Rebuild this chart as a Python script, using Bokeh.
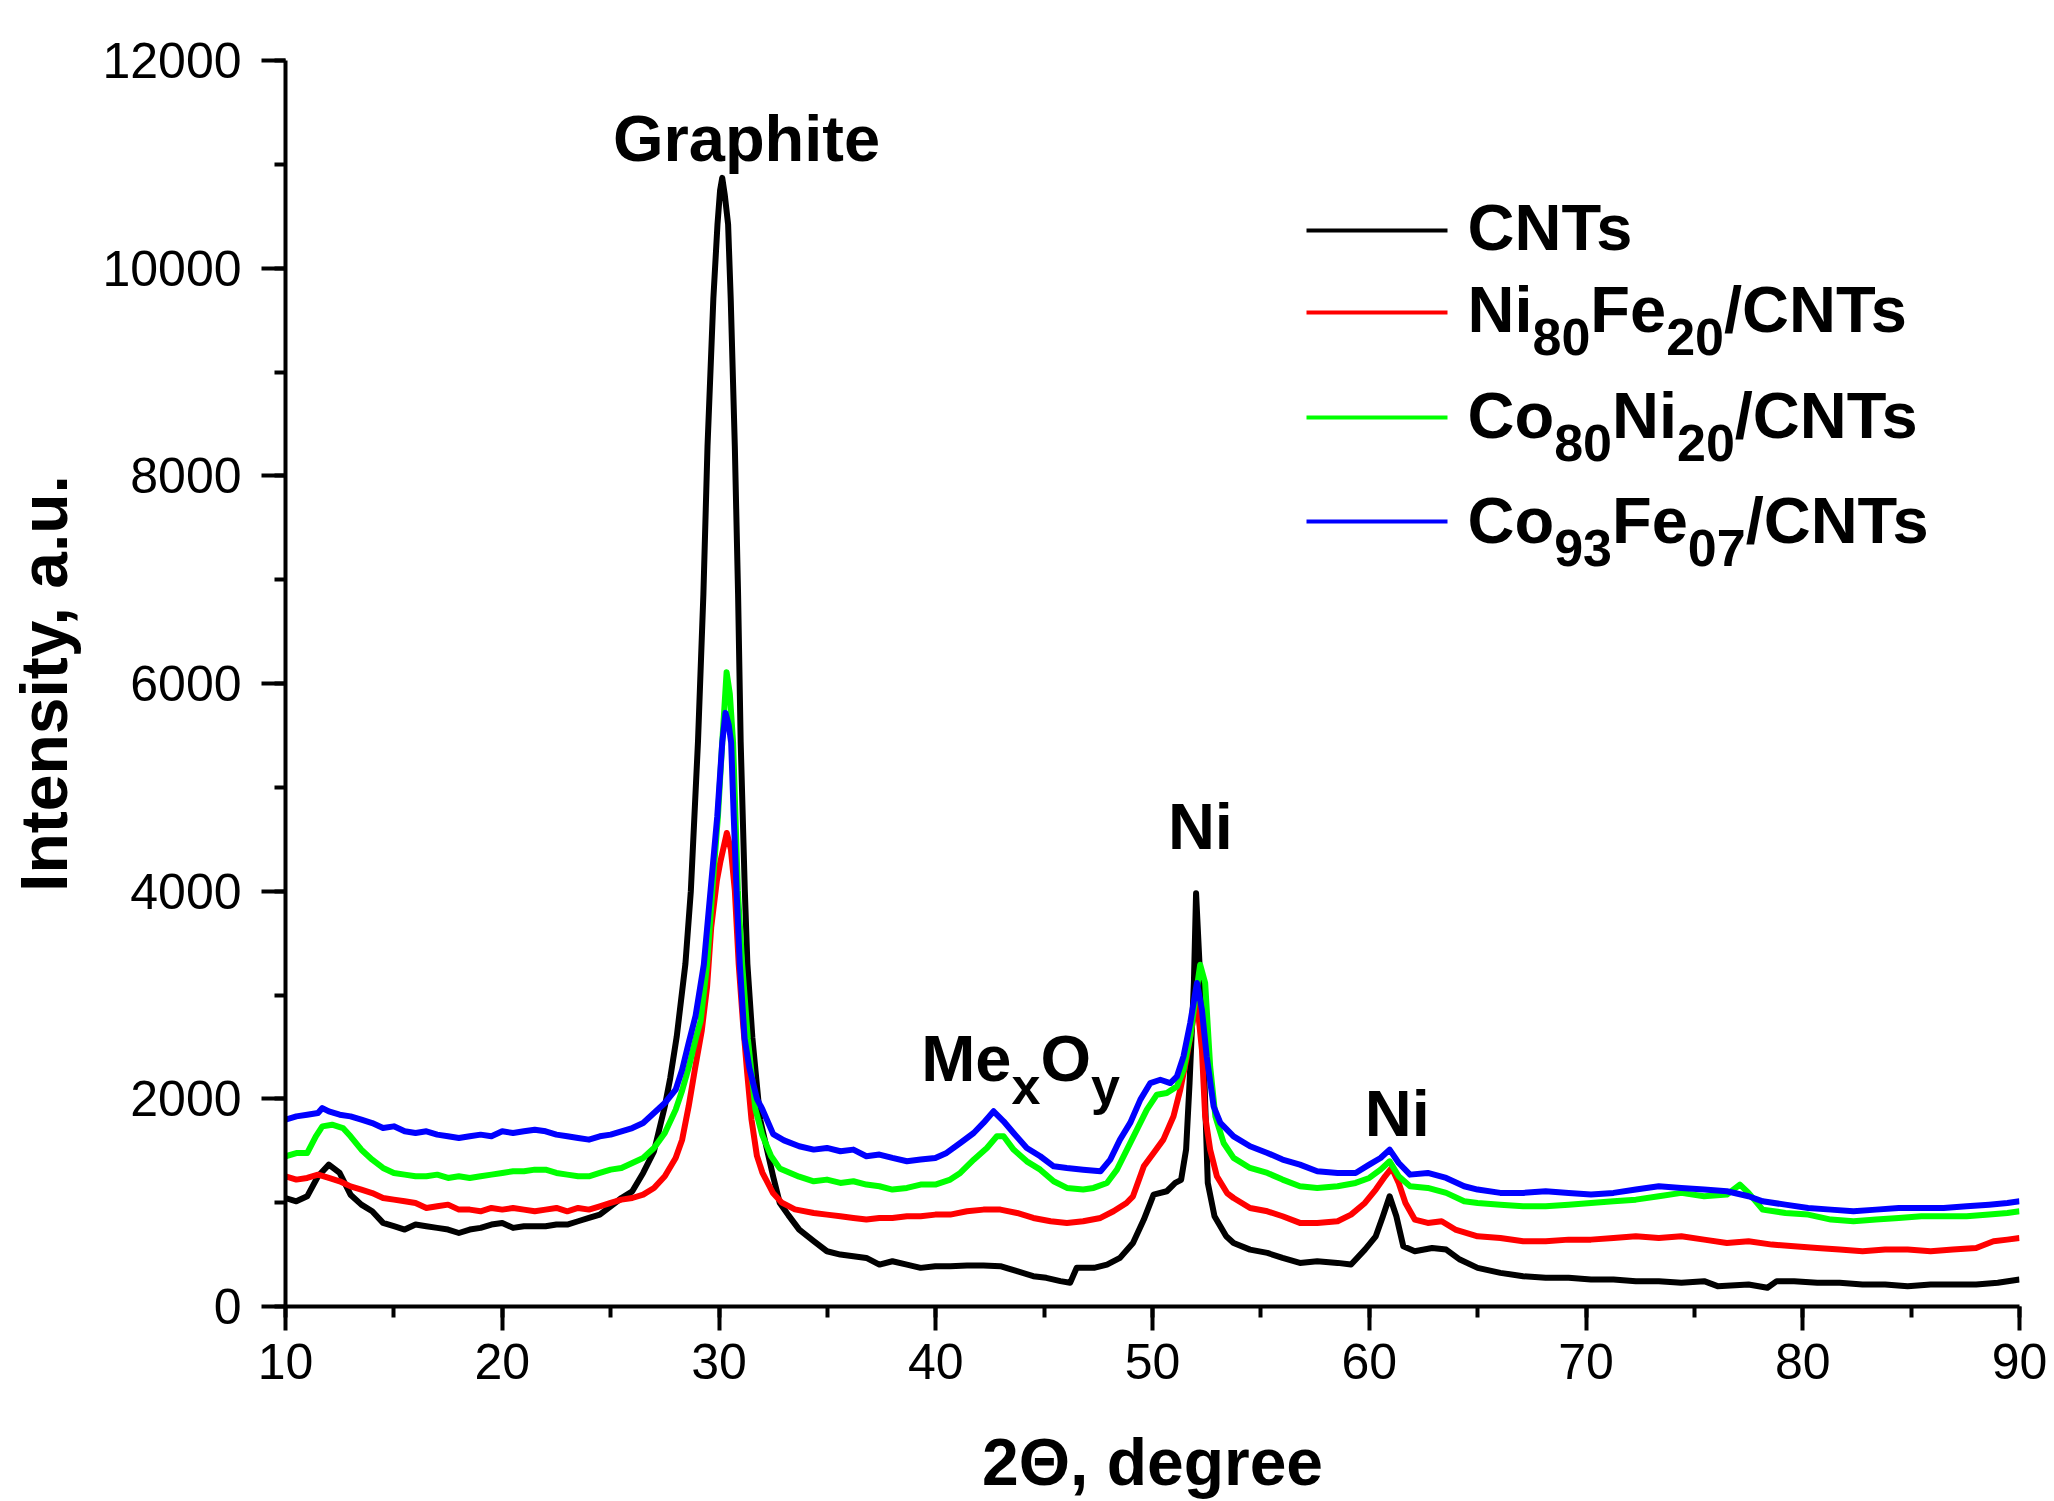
from bokeh.plotting import figure
from bokeh.models import Range1d, SingleIntervalTicker, Label, Arrow, ColumnDataSource
from bokeh.embed import file_html
from bokeh.resources import INLINE

# ---------------- data ----------------
cnt_x = [10.0, 10.5, 11.0, 11.5, 12.0, 12.5, 13.0, 13.5, 14.0, 14.5, 15.0, 15.5, 16.0, 16.5, 17.0, 17.5,
         18.0, 18.5, 19.0, 19.5, 20.0, 20.5, 21.0, 21.5, 22.0, 22.5, 23.0, 23.5, 24.0, 24.5, 25.0, 25.5,
         26.0, 26.5, 27.0, 27.5, 27.75, 28.05, 28.45, 28.7, 29.03, 29.28, 29.47, 29.74, 29.93, 30.05,
         30.15, 30.27, 30.42, 30.54, 30.73, 30.88, 31.0, 31.19, 31.31, 31.54, 31.9, 32.5, 32.8, 33.2,
         33.7, 34.37, 34.98, 35.6, 36.2, 36.8, 37.4, 38.0, 38.67, 39.3, 39.98, 40.67, 41.44, 42.2,
         42.98, 43.75, 44.5, 45.1, 45.75, 46.2, 46.5, 47.3, 47.9, 48.5, 49.1, 49.6, 50.05, 50.66,
         51.05, 51.32, 51.55, 51.71, 51.91, 52.01, 52.21, 52.4, 52.55, 52.86, 53.4, 53.74, 54.5,
         55.3, 56.0, 56.8, 57.6, 58.54, 59.16, 59.8, 60.3, 60.63, 60.94, 61.25, 61.57, 62.1, 62.9,
         63.55, 64.18, 65.0, 66.05, 67.1, 68.14, 69.2, 70.23, 71.27, 72.3, 73.36, 74.4, 75.45, 76.07,
         77.5, 78.37, 78.8, 79.6, 80.67, 81.7, 82.76, 83.8, 84.84, 85.9, 86.93, 88.0, 89.0, 90.0]
cnt_y = [1045, 1013, 1061, 1254, 1366, 1286, 1077, 981, 917, 805, 773, 741, 789, 773, 757, 741,
         708, 741, 757, 789, 805, 757, 773, 773, 773, 789, 789, 821, 853, 885, 965, 1045,
         1109, 1286, 1494, 1927, 2200, 2600, 3300, 4000, 5437, 6861, 8285, 9709, 10421, 10750,
         10870, 10700, 10421, 9709, 8285, 6861, 5437, 4013, 3300, 2589, 1800, 1250, 1000, 880,
         740, 629, 532, 500, 484, 468, 404, 436, 404, 372, 388, 388, 394, 394,
         388, 340, 292, 276, 244, 228, 372, 372, 404, 468, 612, 837, 1078, 1110,
         1190, 1220, 1511, 2155, 3118, 3980, 3118, 2155, 1190, 869, 677, 612, 548,
         516, 468, 420, 436, 420, 404, 548, 676, 869, 1062, 869, 580, 532, 564,
         548, 452, 372, 324, 292, 276, 276, 260, 260, 244, 244, 228, 244, 196,
         212, 180, 244, 244, 228, 228, 212, 212, 196, 212, 212, 212, 228, 260]

nife_x = [10.0, 10.5, 11.0, 11.5, 12.0, 12.5, 13.0, 13.5, 14.0, 14.5, 15.0, 15.5, 16.0, 16.5, 17.0, 17.5,
          18.0, 18.5, 19.0, 19.5, 20.0, 20.5, 21.0, 21.5, 22.0, 22.5, 23.0, 23.5, 24.0, 24.5, 25.0, 25.5,
          26.0, 26.5, 27.0, 27.5, 28.0, 28.3, 28.6, 28.9, 29.2, 29.45, 29.64, 29.9, 30.07, 30.36, 30.55,
          30.73, 30.91, 31.1, 31.3, 31.5, 31.75, 32.0, 32.5, 32.9, 33.5, 34.37, 34.98, 35.6, 36.2,
          36.8, 37.4, 38.0, 38.67, 39.3, 39.98, 40.67, 41.44, 42.2, 42.98, 43.75, 44.5, 45.3, 46.05,
          46.8, 47.6, 48.2, 48.8, 49.1, 49.6, 50.05, 50.5, 50.97, 51.28, 51.59, 51.9, 52.05, 52.28,
          52.43, 52.66, 52.97, 53.44, 53.74, 54.5, 55.3, 56.0, 56.8, 57.6, 58.54, 59.16, 59.8, 60.3,
          60.73, 61.04, 61.36, 61.67, 62.1, 62.7, 63.34, 63.97, 65.0, 66.05, 67.1, 68.14, 69.2, 70.23,
          71.27, 72.3, 73.36, 74.4, 75.45, 76.5, 77.5, 78.58, 79.6, 80.67, 81.7, 82.76, 83.8, 84.84,
          85.9, 86.93, 88.0, 88.8, 89.44, 90.0]
nife_y = [1254, 1222, 1238, 1270, 1238, 1206, 1157, 1125, 1093, 1045, 1029, 1013, 997, 949, 965, 981,
          933, 933, 917, 949, 933, 949, 933, 917, 933, 949, 917, 949, 933, 965, 997, 1029,
          1045, 1077, 1141, 1254, 1430, 1607, 1927, 2300, 2650, 3080, 3650, 4100, 4290, 4560, 4400,
          4007, 3294, 2750, 2250, 1800, 1450, 1290, 1090, 1000, 935, 901, 885, 869, 853,
          837, 853, 853, 869, 869, 885, 885, 917, 933, 933, 901, 853, 821, 805,
          821, 853, 917, 997, 1061, 1350, 1479, 1607, 1832, 2088, 2409, 2794, 2950, 2473,
          1832, 1511, 1254, 1093, 1045, 949, 917, 869, 805, 805, 821, 885, 997, 1126,
          1254, 1334, 1190, 997, 837, 805, 821, 741, 676, 660, 628, 628, 644, 644,
          660, 676, 660, 676, 644, 612, 628, 596, 580, 564, 548, 532, 548, 548,
          532, 548, 564, 628, 644, 660]

coni_x = [10.0, 10.5, 11.0, 11.4, 11.7, 12.15, 12.65, 13.0, 13.5, 14.0, 14.5, 15.0, 15.5, 16.0, 16.5,
          17.0, 17.5, 18.0, 18.5, 19.0, 19.5, 20.0, 20.5, 21.0, 21.5, 22.0, 22.5, 23.0, 23.5, 24.0,
          24.5, 25.0, 25.5, 26.0, 26.5, 27.0, 27.5, 28.0, 28.3, 28.6, 28.95, 29.15, 29.45, 29.69,
          29.95, 30.15, 30.35, 30.5, 30.65, 30.76, 30.87, 31.07, 31.33, 31.68, 32.0, 32.4, 32.8,
          33.7, 34.37, 34.98, 35.6, 36.2, 36.8, 37.4, 38.0, 38.67, 39.3, 39.98, 40.67, 41.13, 41.75,
          42.36, 42.82, 43.13, 43.59, 44.2, 44.82, 45.44, 46.05, 46.8, 47.28, 47.9, 48.36, 48.82,
          49.28, 49.74, 50.2, 50.66, 51.13, 51.43, 51.74, 51.97, 52.2, 52.43, 52.66, 52.9, 53.28,
          53.74, 54.5, 55.3, 56.0, 56.8, 57.6, 58.54, 59.37, 60.0, 60.52, 60.94, 61.36, 61.88, 62.7,
          63.55, 64.38, 65.0, 66.05, 67.1, 68.14, 69.2, 70.23, 71.27, 72.3, 73.36, 74.4, 75.45, 76.5,
          77.1, 77.5, 78.15, 79.2, 80.25, 81.3, 82.34, 83.38, 84.43, 85.47, 86.5, 87.56, 88.6, 89.44,
          90.0]
coni_y = [1446, 1478, 1478, 1639, 1735, 1751, 1719, 1639, 1510, 1414, 1334, 1286, 1270, 1254, 1254,
          1270, 1238, 1254, 1238, 1254, 1270, 1286, 1302, 1302, 1318, 1318, 1286, 1270, 1254, 1254,
          1286, 1318, 1334, 1382, 1430, 1526, 1671, 1895, 2080, 2300, 2600, 2750, 3294, 4007,
          4719, 5432, 6109, 5900, 5432, 4719, 4007, 3294, 2581, 1900, 1650, 1450, 1330,
          1250, 1206, 1222, 1190, 1206, 1174, 1158, 1126, 1142, 1174, 1174, 1222, 1286, 1414,
          1527, 1639, 1639, 1511, 1398, 1318, 1206, 1142, 1126, 1142, 1190, 1318, 1511,
          1703, 1896, 2040, 2056, 2120, 2281, 2602, 2954, 3291, 3115, 2313, 1832, 1575,
          1431, 1334, 1286, 1222, 1158, 1142, 1158, 1190, 1238, 1318, 1398, 1254, 1158, 1142,
          1094, 1013, 997, 981, 965, 965, 981, 997, 1013, 1029, 1062, 1094, 1062, 1078,
          1174, 1094, 933, 901, 885, 837, 821, 837, 853, 869, 869, 869, 885, 901,
          917]

cofe_x = [10.0, 10.5, 11.0, 11.5, 11.7, 12.0, 12.5, 13.0, 13.5, 14.0, 14.5, 15.0, 15.5, 16.0, 16.5,
          17.0, 17.5, 18.0, 18.5, 19.0, 19.5, 20.0, 20.5, 21.0, 21.5, 22.0, 22.5, 23.0, 23.5, 24.0,
          24.5, 25.0, 25.5, 26.0, 26.5, 27.0, 27.5, 28.0, 28.3, 28.6, 28.92, 29.3, 29.61, 29.92,
          30.15, 30.3, 30.45, 30.56, 30.68, 30.81, 30.96, 31.18, 31.4, 31.75, 32.0, 32.5, 33.0,
          33.7, 34.37, 34.98, 35.6, 36.2, 36.8, 37.4, 38.0, 38.67, 39.3, 39.98, 40.5, 41.13, 41.75,
          42.2, 42.67, 43.13, 43.59, 44.2, 44.82, 45.44, 46.05, 46.8, 47.6, 48.05, 48.5, 48.97,
          49.44, 49.9, 50.36, 50.82, 51.13, 51.43, 51.74, 52.05, 52.28, 52.5, 52.82, 53.13, 53.74,
          54.5, 55.3, 56.0, 56.8, 57.6, 58.54, 59.37, 60.0, 60.52, 60.94, 61.36, 61.88, 62.7, 63.55,
          64.38, 65.0, 66.05, 67.1, 68.14, 69.2, 70.23, 71.27, 72.3, 73.36, 74.4, 75.45, 76.5, 77.5,
          78.15, 79.2, 80.25, 81.3, 82.34, 83.38, 84.43, 85.47, 86.5, 87.56, 88.6, 89.44, 90.0]
cofe_y = [1799, 1831, 1847, 1863, 1911, 1879, 1847, 1831, 1799, 1767, 1719, 1735, 1687, 1671, 1687,
          1655, 1639, 1623, 1639, 1655, 1639, 1687, 1671, 1687, 1703, 1687, 1655, 1639, 1623, 1607,
          1639, 1655, 1687, 1719, 1767, 1863, 1960, 2088, 2280, 2537, 2800, 3294, 4007, 4719,
          5432, 5717, 5600, 5432, 4719, 4007, 3294, 2581, 2300, 2000, 1900, 1660, 1600,
          1543, 1511, 1527, 1495, 1511, 1447, 1463, 1431, 1399, 1415, 1431, 1479, 1575, 1671,
          1768, 1880, 1784, 1671, 1527, 1447, 1350, 1334, 1318, 1302, 1415, 1607, 1768,
          1992, 2152, 2184, 2152, 2217, 2409, 2730, 3115, 2858, 2409, 1928, 1768, 1639,
          1543, 1479, 1415, 1366, 1302, 1286, 1286, 1366, 1430, 1511, 1382, 1270, 1286, 1238,
          1158, 1126, 1094, 1094, 1110, 1094, 1078, 1094, 1126, 1158, 1142, 1126, 1110, 1062,
          1013, 981, 949, 933, 917, 933, 949, 949, 949, 965, 981, 997, 1013]

series_names = ["CNTs", "Ni80Fe20/CNTs", "Co80Ni20/CNTs", "Co93Fe07/CNTs"]
series_colors = ["#000000", "#ff0000", "#00ff00", "#0000ff"]
# legend pieces: (text, is_subscript)
legend_pieces = [
    [("CNTs", False)],
    [("Ni", False), ("80", True), ("Fe", False), ("20", True), ("/CNTs", False)],
    [("Co", False), ("80", True), ("Ni", False), ("20", True), ("/CNTs", False)],
    [("Co", False), ("93", True), ("Fe", False), ("07", True), ("/CNTs", False)],
]
x_title = "2\u0398, degree"
y_title = "Intensity, a.u."
x_ticks_interval = 10
y_ticks_interval = 2000

# peak annotations: (pieces, x, y, align) -- y is the text baseline
annotations = [
    ([("Graphite", False)], 31.27, 11030, "center"),
    ([("Me", False), ("x", True), ("O", False), ("y", True)], 39.33, 2173, "left"),
    ([("Ni", False)], 52.21, 4408, "center"),
    ([("Ni", False)], 61.29, 1643, "center"),
]

# ---------------- figure ----------------
FONT = "Liberation Sans"
MAIN = 65
SUB = 52
SUB_DROP = 23
MID = 0.3465  # baseline -> box-centre distance (em), Liberation Sans

# Arial/Liberation Sans Bold advance widths (per 1000 em)
W = {'C': 722, 'N': 722, 'T': 611, 's': 556, 'i': 278, 'F': 611, 'e': 556, 'o': 611, '/': 278,
     'M': 833, 'O': 778, 'x': 556, 'y': 556, 'G': 778, 'r': 389, 'a': 556, 'p': 611, 'h': 611,
     't': 333}


def text_width(t, size):
    return sum(W.get(c, 556) for c in t) * size / 1000.0


W_PX, H_PX = 2054, 1501
BL, BR, BT, BB = 285, 35, 60, 195

p = figure(width=W_PX, height=H_PX, output_backend="svg", toolbar_location=None,
           x_range=Range1d(10, 90), y_range=Range1d(0, 12000),
           min_border_left=BL, min_border_right=BR, min_border_top=BT, min_border_bottom=BB)
p.outline_line_color = None
p.grid.visible = False
p.background_fill_color = "white"
p.border_fill_color = "white"

data = [(cnt_x, cnt_y), (nife_x, nife_y), (coni_x, coni_y), (cofe_x, cofe_y)]
for (xs, ys), c in zip(data, series_colors):
    src = ColumnDataSource(dict(x=xs, y=ys))
    p.line("x", "y", source=src, line_color=c, line_width=6, line_join="round")

p.xaxis.ticker = SingleIntervalTicker(interval=x_ticks_interval, num_minor_ticks=2)
p.yaxis.ticker = SingleIntervalTicker(interval=y_ticks_interval, num_minor_ticks=2)
p.xaxis.axis_label = x_title
p.yaxis.axis_label = y_title
for ax in (p.xaxis[0], p.yaxis[0]):
    ax.axis_line_width = 4
    ax.axis_line_color = "black"
    ax.major_tick_line_width = 4
    ax.minor_tick_line_width = 4
    ax.major_tick_line_color = "black"
    ax.minor_tick_line_color = "black"
    ax.major_tick_out = 24
    ax.major_tick_in = 0
    ax.minor_tick_out = 11
    ax.minor_tick_in = 0
    ax.major_label_text_font = FONT
    ax.major_label_text_font_size = "50px"
    ax.major_label_text_color = "black"
    ax.axis_label_text_font = FONT
    ax.axis_label_text_font_size = "66px"
    ax.axis_label_text_font_style = "bold"
    ax.axis_label_text_color = "black"
p.xaxis.major_label_standoff = 13
p.yaxis.major_label_standoff = 20
p.xaxis.axis_label_standoff = 43
p.yaxis.axis_label_standoff = 18


def place_pieces(pieces, x, y, units, align):
    total = sum(text_width(t, SUB if s else MAIN) for t, s in pieces)
    off = -total / 2.0 if align == "center" else 0.0
    for t, s in pieces:
        size = SUB if s else MAIN
        yoff = (-SUB_DROP if s else 0) + MID * size
        p.add_layout(Label(x=x, y=y, x_units=units, y_units=units, text=t,
                           x_offset=off, y_offset=yoff,
                           text_font=FONT, text_font_size=f"{size}px", text_font_style="bold",
                           text_color="black", text_align="left", text_baseline="middle"))
        off += text_width(t, size)


for pieces, x, y, align in annotations:
    place_pieces(pieces, x, y, "data", align)

# legend (screen units relative to the plot frame)
frame_bottom = H_PX - BB
leg_line_x0, leg_line_x1, leg_text_x = 1021, 1162, 1182
leg_line_y = [frame_bottom - v for v in (230, 312, 417, 521)]
leg_text_y = [frame_bottom - v for v in (250, 332, 438, 543)]
for c, ly, ty, pieces in zip(series_colors, leg_line_y, leg_text_y, legend_pieces):
    p.add_layout(Arrow(end=None, x_start=leg_line_x0, y_start=ly, x_end=leg_line_x1, y_end=ly,
                       start_units="screen", end_units="screen", line_color=c, line_width=4))
    place_pieces(pieces, leg_text_x, ty, "screen", "left")

open("out.html", "w").write(file_html(p, INLINE))
